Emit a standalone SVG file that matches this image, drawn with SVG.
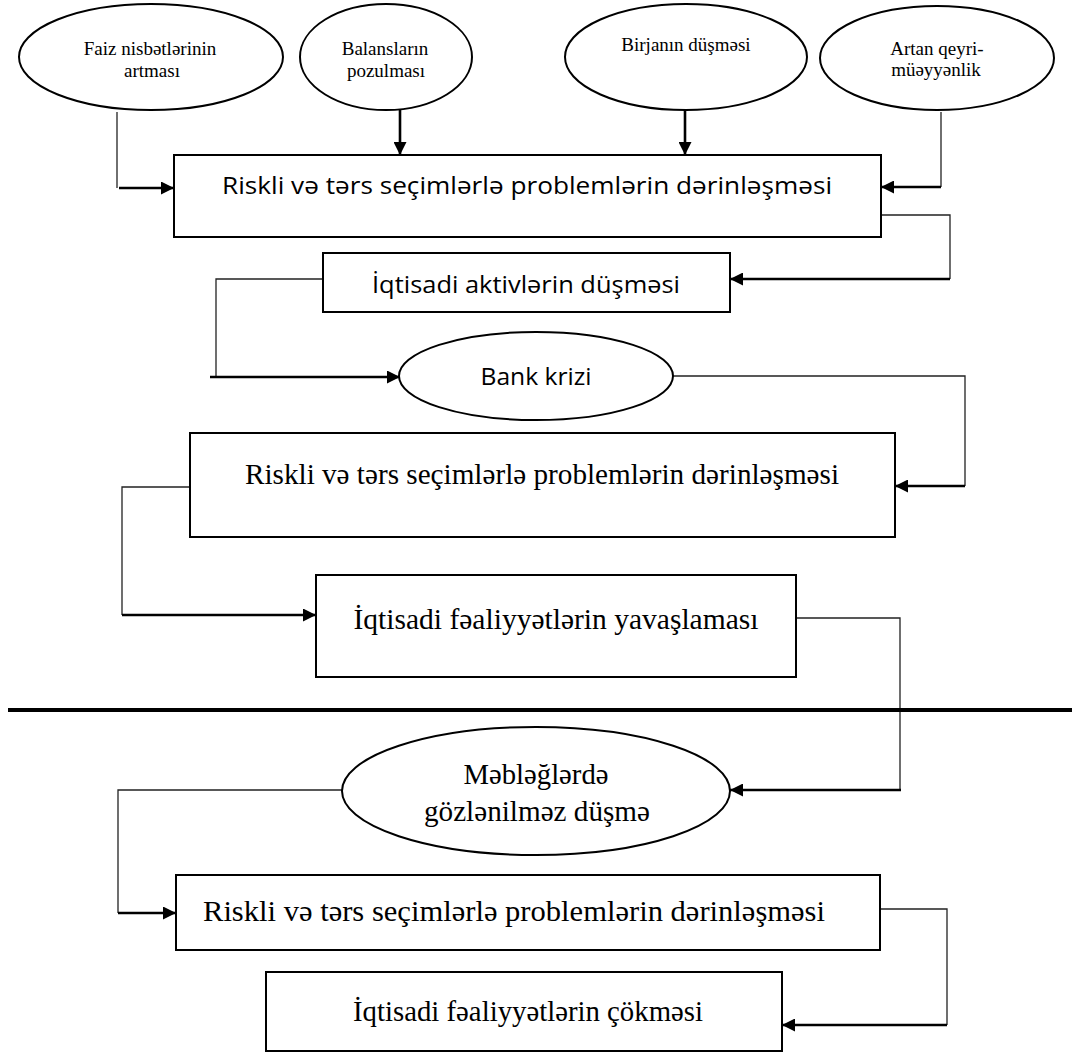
<svg xmlns="http://www.w3.org/2000/svg" width="1072" height="1053" viewBox="0 0 1072 1053">
<style>
.bg{fill:#fff}
.box{fill:#fff;stroke:#000;stroke-width:2}
.ell{fill:#fff;stroke:#000;stroke-width:2}
.thin{fill:none;stroke:#222;stroke-width:1.3}
.thick{fill:none;stroke:#000;stroke-width:2.6}
.sm{font-family:"Liberation Serif","Times New Roman",serif;font-size:19px;fill:#000;text-anchor:middle}
.sr{font-family:"Liberation Serif","Times New Roman",serif;font-size:29px;fill:#000;text-anchor:middle}
.ss{font-family:"Open Sans","DejaVu Sans",sans-serif;font-size:24px;fill:#000;text-anchor:middle}
</style>
<defs>
<marker id="ah" viewBox="0 0 13 13" refX="13" refY="6.5" markerWidth="13" markerHeight="13" markerUnits="userSpaceOnUse" orient="auto">
<path d="M0,0 L13,6.5 L0,13 z" fill="#000"/>
</marker>
</defs>
<rect class="bg" x="0" y="0" width="1072" height="1053"/>

<g id="connectors">
<path class="thin" d="M117,112 V188"/>
<path class="thick" d="M119,188 H174" marker-end="url(#ah)"/>
<path class="thick" d="M400,110 V155" marker-end="url(#ah)"/>
<path class="thick" d="M685,110 V155" marker-end="url(#ah)"/>
<path class="thin" d="M941,112 V187"/>
<path class="thick" d="M941,187 H881" marker-end="url(#ah)"/>
<path class="thin" d="M876,215 H950 V279"/>
<path class="thick" d="M950,279 H730" marker-end="url(#ah)"/>
<path class="thin" d="M323,279 H216 V377"/>
<path class="thick" d="M210,377 H400" marker-end="url(#ah)"/>
<path class="thin" d="M673,376 H965 V486"/>
<path class="thick" d="M965,486 H895" marker-end="url(#ah)"/>
<path class="thin" d="M190,487 H122 V615"/>
<path class="thick" d="M122,615 H316" marker-end="url(#ah)"/>
<path class="thin" d="M796,618 H900 V790"/>
<path class="thick" d="M901,790 H730" marker-end="url(#ah)"/>
<path class="thin" d="M342,790 H118 V913"/>
<path class="thick" d="M118,913 H176" marker-end="url(#ah)"/>
<path class="thin" d="M876,909 H947 V1025"/>
<path class="thick" d="M947,1025 H782" marker-end="url(#ah)"/>
</g>

<line x1="8" y1="710" x2="1072" y2="710" stroke="#000" stroke-width="4"/>

<g id="n_faiz">
<ellipse class="ell" cx="151" cy="57" rx="132" ry="53"/>
<text class="sm" x="150" y="55">Faiz nisbətlərinin</text>
<text class="sm" x="152" y="77">artması</text>
</g>
<g id="n_balans">
<ellipse class="ell" cx="386" cy="57" rx="86" ry="53"/>
<text class="sm" x="385" y="55">Balansların</text>
<text class="sm" x="386" y="77">pozulması</text>
</g>
<g id="n_birja">
<ellipse class="ell" cx="686" cy="57" rx="121" ry="53"/>
<text class="sm" x="686" y="51">Birjanın düşməsi</text>
</g>
<g id="n_artan">
<ellipse class="ell" cx="937" cy="58" rx="117" ry="52"/>
<text class="sm" x="937" y="55">Artan qeyri-</text>
<text class="sm" x="936" y="76">müəyyənlik</text>
</g>

<g id="n_box1">
<rect class="box" x="174" y="155" width="707" height="82"/>
<text class="ss" x="527" y="194" textLength="610" lengthAdjust="spacingAndGlyphs">Riskli və tərs seçimlərlə problemlərin dərinləşməsi</text>
</g>
<g id="n_box2">
<rect class="box" x="323" y="253" width="407" height="59"/>
<text class="ss" x="526" y="293" textLength="308" lengthAdjust="spacingAndGlyphs">İqtisadi aktivlərin düşməsi</text>
</g>
<g id="n_bank">
<ellipse class="ell" cx="536" cy="376" rx="137" ry="44"/>
<text class="ss" x="536" y="385" textLength="111" lengthAdjust="spacingAndGlyphs">Bank krizi</text>
</g>
<g id="n_box3">
<rect class="box" x="190" y="433" width="705" height="104"/>
<text class="sr" x="542" y="484" textLength="594" lengthAdjust="spacingAndGlyphs">Riskli və tərs seçimlərlə problemlərin dərinləşməsi</text>
</g>
<g id="n_box4">
<rect class="box" x="316" y="575" width="480" height="102"/>
<text class="sr" x="556" y="629" textLength="405" lengthAdjust="spacingAndGlyphs">İqtisadi fəaliyyətlərin yavaşlaması</text>
</g>
<g id="n_mebleg">
<ellipse class="ell" cx="536" cy="791" rx="194" ry="64"/>
<text class="sr" x="536" y="784" textLength="145" lengthAdjust="spacingAndGlyphs">Məbləğlərdə</text>
<text class="sr" x="537" y="821" textLength="226" lengthAdjust="spacingAndGlyphs">gözlənilməz düşmə</text>
</g>
<g id="n_box5">
<rect class="box" x="176" y="875" width="704" height="75"/>
<text class="sr" x="514" y="921" textLength="622" lengthAdjust="spacingAndGlyphs">Riskli və tərs seçimlərlə problemlərin dərinləşməsi</text>
</g>
<g id="n_box6">
<rect class="box" x="266" y="972" width="516" height="79"/>
<text class="sr" x="528" y="1021" textLength="350" lengthAdjust="spacingAndGlyphs">İqtisadi fəaliyyətlərin çökməsi</text>
</g>
</svg>
